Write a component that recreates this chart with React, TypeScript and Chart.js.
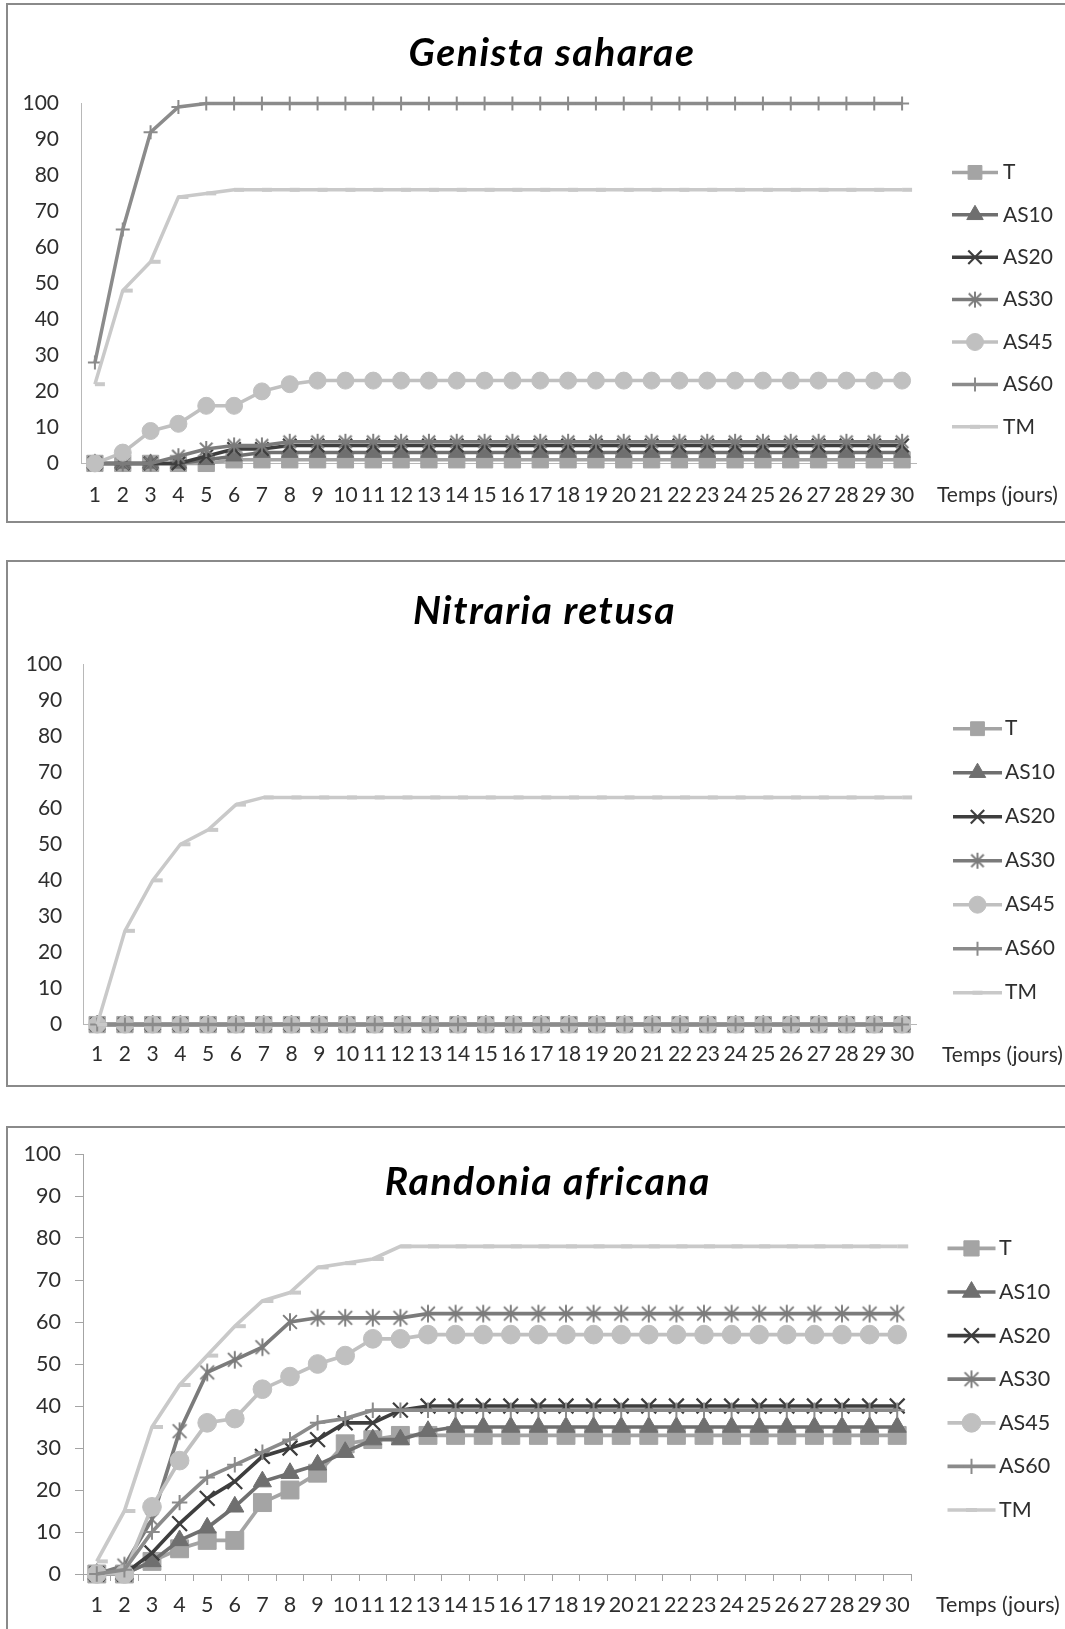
import React, { useEffect, useRef } from "react";
import { Chart, registerables } from "chart.js";
import { drawPoint } from "chart.js/helpers";

Chart.register(...registerables);

// ---------- data ----------
const dayLabels = [
  "1", "2", "3", "4", "5", "6", "7", "8", "9", "10",
  "11", "12", "13", "14", "15", "16", "17", "18", "19", "20",
  "21", "22", "23", "24", "25", "26", "27", "28", "29", "30",
];
const seriesNames = ["T", "AS10", "AS20", "AS30", "AS45", "AS60", "TM"];
const xAxisName = "Temps (jours)";

const genistaTitle = "Genista saharae";
const genistaT = [0, 0, 0, 0, 0, 1, 1, 1, 1, 1, 1, 1, 1, 1, 1, 1, 1, 1, 1, 1, 1, 1, 1, 1, 1, 1, 1, 1, 1, 1];
const genistaAS10 = [0, 0, 0, 0, 1, 2, 3, 3, 3, 3, 3, 3, 3, 3, 3, 3, 3, 3, 3, 3, 3, 3, 3, 3, 3, 3, 3, 3, 3, 3];
const genistaAS20 = [0, 0, 0, 0, 2, 4, 4, 5, 5, 5, 5, 5, 5, 5, 5, 5, 5, 5, 5, 5, 5, 5, 5, 5, 5, 5, 5, 5, 5, 5];
const genistaAS30 = [0, 0, 0, 2, 4, 5, 5, 6, 6, 6, 6, 6, 6, 6, 6, 6, 6, 6, 6, 6, 6, 6, 6, 6, 6, 6, 6, 6, 6, 6];
const genistaAS45 = [0, 3, 9, 11, 16, 16, 20, 22, 23, 23, 23, 23, 23, 23, 23, 23, 23, 23, 23, 23, 23, 23, 23, 23, 23, 23, 23, 23, 23, 23];
const genistaAS60 = [28, 65, 92, 99, 100, 100, 100, 100, 100, 100, 100, 100, 100, 100, 100, 100, 100, 100, 100, 100, 100, 100, 100, 100, 100, 100, 100, 100, 100, 100];
const genistaTM = [22, 48, 56, 74, 75, 76, 76, 76, 76, 76, 76, 76, 76, 76, 76, 76, 76, 76, 76, 76, 76, 76, 76, 76, 76, 76, 76, 76, 76, 76];

const nitrariaTitle = "Nitraria retusa";
const nitrariaT = [0, 0, 0, 0, 0, 0, 0, 0, 0, 0, 0, 0, 0, 0, 0, 0, 0, 0, 0, 0, 0, 0, 0, 0, 0, 0, 0, 0, 0, 0];
const nitrariaAS10 = [0, 0, 0, 0, 0, 0, 0, 0, 0, 0, 0, 0, 0, 0, 0, 0, 0, 0, 0, 0, 0, 0, 0, 0, 0, 0, 0, 0, 0, 0];
const nitrariaAS20 = [0, 0, 0, 0, 0, 0, 0, 0, 0, 0, 0, 0, 0, 0, 0, 0, 0, 0, 0, 0, 0, 0, 0, 0, 0, 0, 0, 0, 0, 0];
const nitrariaAS30 = [0, 0, 0, 0, 0, 0, 0, 0, 0, 0, 0, 0, 0, 0, 0, 0, 0, 0, 0, 0, 0, 0, 0, 0, 0, 0, 0, 0, 0, 0];
const nitrariaAS45 = [0, 0, 0, 0, 0, 0, 0, 0, 0, 0, 0, 0, 0, 0, 0, 0, 0, 0, 0, 0, 0, 0, 0, 0, 0, 0, 0, 0, 0, 0];
const nitrariaAS60 = [0, 0, 0, 0, 0, 0, 0, 0, 0, 0, 0, 0, 0, 0, 0, 0, 0, 0, 0, 0, 0, 0, 0, 0, 0, 0, 0, 0, 0, 0];
const nitrariaTM = [0, 26, 40, 50, 54, 61, 63, 63, 63, 63, 63, 63, 63, 63, 63, 63, 63, 63, 63, 63, 63, 63, 63, 63, 63, 63, 63, 63, 63, 63];

const randoniaTitle = "Randonia africana";
const randoniaT = [0, 0, 3, 6, 8, 8, 17, 20, 24, 31, 32, 33, 33, 33, 33, 33, 33, 33, 33, 33, 33, 33, 33, 33, 33, 33, 33, 33, 33, 33];
const randoniaAS10 = [0, 0, 3, 8, 11, 16, 22, 24, 26, 29, 32, 32, 34, 35, 35, 35, 35, 35, 35, 35, 35, 35, 35, 35, 35, 35, 35, 35, 35, 35];
const randoniaAS20 = [0, 0, 5, 12, 18, 22, 28, 30, 32, 36, 36, 39, 40, 40, 40, 40, 40, 40, 40, 40, 40, 40, 40, 40, 40, 40, 40, 40, 40, 40];
const randoniaAS30 = [0, 2, 13, 34, 48, 51, 54, 60, 61, 61, 61, 61, 62, 62, 62, 62, 62, 62, 62, 62, 62, 62, 62, 62, 62, 62, 62, 62, 62, 62];
const randoniaAS45 = [0, 0, 16, 27, 36, 37, 44, 47, 50, 52, 56, 56, 57, 57, 57, 57, 57, 57, 57, 57, 57, 57, 57, 57, 57, 57, 57, 57, 57, 57];
const randoniaAS60 = [0, 1, 10, 17, 23, 26, 29, 32, 36, 37, 39, 39, 39, 39, 39, 39, 39, 39, 39, 39, 39, 39, 39, 39, 39, 39, 39, 39, 39, 39];
const randoniaTM = [3, 15, 35, 45, 52, 59, 65, 67, 73, 74, 75, 78, 78, 78, 78, 78, 78, 78, 78, 78, 78, 78, 78, 78, 78, 78, 78, 78, 78, 78];

// ---------- styles ----------
const PAGE_W = 1065;
const FONT = "Lato";
const TEXT = "#2e2e2e";
const seriesColors = ["#a4a4a4", "#6f6f6f", "#3e3e3e", "#7b7b7b", "#c0c0c0", "#8b8b8b", "#c9c9c9"];

function makeAsterisk(size: number, color: string, lw: number): HTMLCanvasElement {
  const s = Math.ceil(size) + 4;
  const c = document.createElement("canvas");
  c.width = s;
  c.height = s;
  const g = c.getContext("2d")!;
  g.strokeStyle = color;
  g.lineWidth = lw;
  const m = s / 2;
  const r = size / 2;
  const d = r * 0.78;
  g.beginPath();
  g.moveTo(m, m - r);
  g.lineTo(m, m + r);
  g.moveTo(m - d, m - d);
  g.lineTo(m + d, m + d);
  g.moveTo(m - d, m + d);
  g.lineTo(m + d, m - d);
  g.stroke();
  return c;
}

function seriesStyle(i: number, k: number) {
  const col = seriesColors[i];
  switch (i) {
    case 0:
      return { pointStyle: "rect", radius: 11.5 * k, bw: 1, bg: col, bc: col };
    case 1:
      return { pointStyle: "triangle", radius: 9.5 * k, bw: 1, bg: col, bc: col };
    case 2:
      return { pointStyle: "crossRot", radius: 9.5 * k, bw: 2.2, bg: col, bc: col };
    case 3:
      return { pointStyle: makeAsterisk(16 * k, col, 1.9), radius: 8 * k, bw: 0, bg: col, bc: col };
    case 4:
      return { pointStyle: "circle", radius: 8.5 * k, bw: 1, bg: col, bc: col };
    case 5:
      return { pointStyle: "cross", radius: 7 * k, bw: 2, bg: col, bc: col };
    default:
      return { pointStyle: "dash", radius: 10 * k, bw: 4, bg: col, bc: col };
  }
}

const legendPlugin = {
  id: "excelLegend",
  afterDraw(chart: any, _args: any, opts: any) {
    const ctx = chart.ctx as CanvasRenderingContext2D;
    ctx.save();
    chart.data.datasets.forEach((ds: any, i: number) => {
      const y = opts.y0 + i * opts.step;
      ctx.strokeStyle = ds.borderColor;
      ctx.lineWidth = ds.borderWidth;
      ctx.beginPath();
      ctx.moveTo(opts.x1, y);
      ctx.lineTo(opts.x2, y);
      ctx.stroke();
      ctx.fillStyle = ds.pointBackgroundColor;
      ctx.strokeStyle = ds.pointBorderColor;
      ctx.lineWidth = ds.pointBorderWidth;
      const cx = ds.pointStyle === "dash" ? (opts.x1 + opts.x2) / 2 - ds.pointRadius / 2 : (opts.x1 + opts.x2) / 2;
      const r = ds.pointStyle === "rect" ? ds.pointRadius * 0.85 : ds.pointRadius;
      drawPoint(ctx, { pointStyle: ds.pointStyle, radius: r, borderWidth: ds.pointBorderWidth, rotation: 0 } as any, cx, y);
      ctx.fillStyle = TEXT;
      ctx.font = `${opts.fontSize}px ${FONT}`;
      ctx.textBaseline = "middle";
      ctx.textAlign = "left";
      ctx.fillText(ds.label, opts.textX, y);
    });
    ctx.fillStyle = TEXT;
    ctx.font = `${opts.fontSize}px ${FONT}`;
    ctx.textBaseline = "middle";
    ctx.textAlign = "left";
    ctx.fillText(xAxisName, opts.axisX, opts.axisY);
    ctx.restore();
  },
};

type PanelCfg = {
  title: string;
  series: number[][];
  boxTop: number;
  boxHeight: number;
  canvasTop: number;
  canvasHeight: number;
  area: { left: number; right: number; top: number; bottom: number };
  titleX: number;
  titleY: number;
  yPad: number;
  xPad: number;
  ticks: boolean;
  axisColor: string;
  legend: { y0: number; step: number; x1: number; x2: number; textX: number };
  axisLabel: { x: number; y: number };
  k: number;
  fontSize: number;
};

const panels: PanelCfg[] = [
  {
    title: genistaTitle,
    series: [genistaT, genistaAS10, genistaAS20, genistaAS30, genistaAS45, genistaAS60, genistaTM],
    boxTop: 3,
    boxHeight: 520,
    canvasTop: 0,
    canvasHeight: 530,
    area: { left: 81, right: 916, top: 103.4, bottom: 463.4 },
    titleX: 552,
    titleY: 51,
    yPad: 22,
    xPad: 19,
    ticks: false,
    axisColor: "#b8b8b8",
    legend: { y0: 172.4, step: 42.4, x1: 952, x2: 998, textX: 1003 },
    axisLabel: { x: 937, y: 495 },
    k: 1,
    fontSize: 21,
  },
  {
    title: nitrariaTitle,
    series: [nitrariaT, nitrariaAS10, nitrariaAS20, nitrariaAS30, nitrariaAS45, nitrariaAS60, nitrariaTM],
    boxTop: 560,
    boxHeight: 527,
    canvasTop: 530,
    canvasHeight: 580,
    area: { left: 83.3, right: 916, top: 664, bottom: 1024.6 },
    titleX: 544.5,
    titleY: 608.5,
    yPad: 21,
    xPad: 17,
    ticks: false,
    axisColor: "#b8b8b8",
    legend: { y0: 728.7, step: 44, x1: 953, x2: 1002, textX: 1005 },
    axisLabel: { x: 942, y: 1055 },
    k: 1,
    fontSize: 21,
  },
  {
    title: randoniaTitle,
    series: [randoniaT, randoniaAS10, randoniaAS20, randoniaAS30, randoniaAS45, randoniaAS60, randoniaTM],
    boxTop: 1126,
    boxHeight: 600,
    canvasTop: 1110,
    canvasHeight: 519,
    area: { left: 83, right: 911, top: 1154, bottom: 1574 },
    titleX: 547.7,
    titleY: 1179.5,
    yPad: 14,
    xPad: 11,
    ticks: true,
    axisColor: "#a4a4a4",
    legend: { y0: 1248.4, step: 43.6, x1: 947.5, x2: 995.5, textX: 999 },
    axisLabel: { x: 936, y: 1605 },
    k: 1.1,
    fontSize: 21.5,
  },
];

function ChartPanel({ p }: { p: PanelCfg }) {
  const ref = useRef<HTMLCanvasElement | null>(null);
  useEffect(() => {
    const canvas = ref.current;
    if (!canvas) return;
    const off = p.canvasTop;
    const a = p.area;
    const datasets = seriesNames.map((name, i) => {
      const st = seriesStyle(i, p.k);
      return {
        label: name,
        data: p.series[i],
        borderColor: seriesColors[i],
        backgroundColor: seriesColors[i],
        borderWidth: 3.5 * (p.k > 1 ? 1.05 : 1),
        pointStyle: st.pointStyle as any,
        pointRadius: st.radius,
        pointHoverRadius: st.radius,
        pointBackgroundColor: st.bg,
        pointBorderColor: st.bc,
        pointBorderWidth: st.bw,
        tension: 0,
        clip: false as any,
        order: 6 - i,
      };
    });
    const tickFont = { family: FONT, size: p.fontSize };
    const chart = new Chart(canvas, {
      type: "line",
      data: { labels: dayLabels, datasets },
      options: {
        responsive: false,
        animation: false,
        devicePixelRatio: 1,
        events: [],
        layout: {
          autoPadding: false,
          padding: { left: 0, right: PAGE_W - a.right, top: a.top - off, bottom: 0 },
        },
        plugins: {
          legend: { display: false },
          tooltip: { enabled: false },
          excelLegend: {
            y0: p.legend.y0 - off,
            step: p.legend.step,
            x1: p.legend.x1,
            x2: p.legend.x2,
            textX: p.legend.textX,
            fontSize: p.fontSize,
            axisX: p.axisLabel.x,
            axisY: p.axisLabel.y - off,
          },
        } as any,
        scales: {
          x: {
            type: "category",
            offset: true,
            grid: {
              display: true,
              offset: true,
              drawOnChartArea: false,
              drawTicks: p.ticks,
              tickLength: 7,
              color: p.axisColor,
            },
            border: { display: true, color: p.axisColor, width: 1 },
            ticks: {
              autoSkip: false,
              maxRotation: 0,
              minRotation: 0,
              padding: p.xPad,
              color: TEXT,
              font: tickFont,
            },
            afterFit: (s: any) => {
              s.height = p.canvasHeight - (a.bottom - off);
            },
          },
          y: {
            type: "linear",
            min: 0,
            max: 100,
            grid: {
              display: true,
              drawOnChartArea: false,
              drawTicks: p.ticks,
              tickLength: 8,
              color: p.axisColor,
            },
            border: { display: true, color: p.axisColor, width: 1 },
            ticks: {
              stepSize: 10,
              padding: p.yPad,
              color: TEXT,
              font: tickFont,
            },
            afterFit: (s: any) => {
              s.width = a.left;
            },
          },
        },
      },
      plugins: [legendPlugin as any],
    });
    return () => chart.destroy();
  }, [p]);

  return (
    <>
      <div
        style={{
          position: "absolute",
          left: 6,
          top: p.boxTop,
          width: 1100,
          height: p.boxHeight,
          border: "2px solid #8a8a8a",
          boxSizing: "border-box",
        }}
      />
      <canvas
        ref={ref}
        width={PAGE_W}
        height={p.canvasHeight}
        style={{ position: "absolute", left: 0, top: p.canvasTop, width: PAGE_W, height: p.canvasHeight }}
      />
      <div
        style={{
          position: "absolute",
          left: p.titleX,
          top: p.titleY,
          transform: "translate(-50%, -50%)",
          whiteSpace: "nowrap",
          fontFamily: FONT,
          fontStyle: "italic",
          fontWeight: 700,
          fontSize: 39,
          letterSpacing: 1.5,
          lineHeight: 1,
          color: "#000",
        }}
      >
        {p.title}
      </div>
    </>
  );
}

export default function App() {
  return (
    <div
      style={{
        position: "absolute",
        left: 0,
        top: 0,
        width: PAGE_W,
        height: 1629,
        overflow: "hidden",
        background: "#fff",
      }}
    >
      {panels.map((p, i) => (
        <ChartPanel key={i} p={p} />
      ))}
    </div>
  );
}
